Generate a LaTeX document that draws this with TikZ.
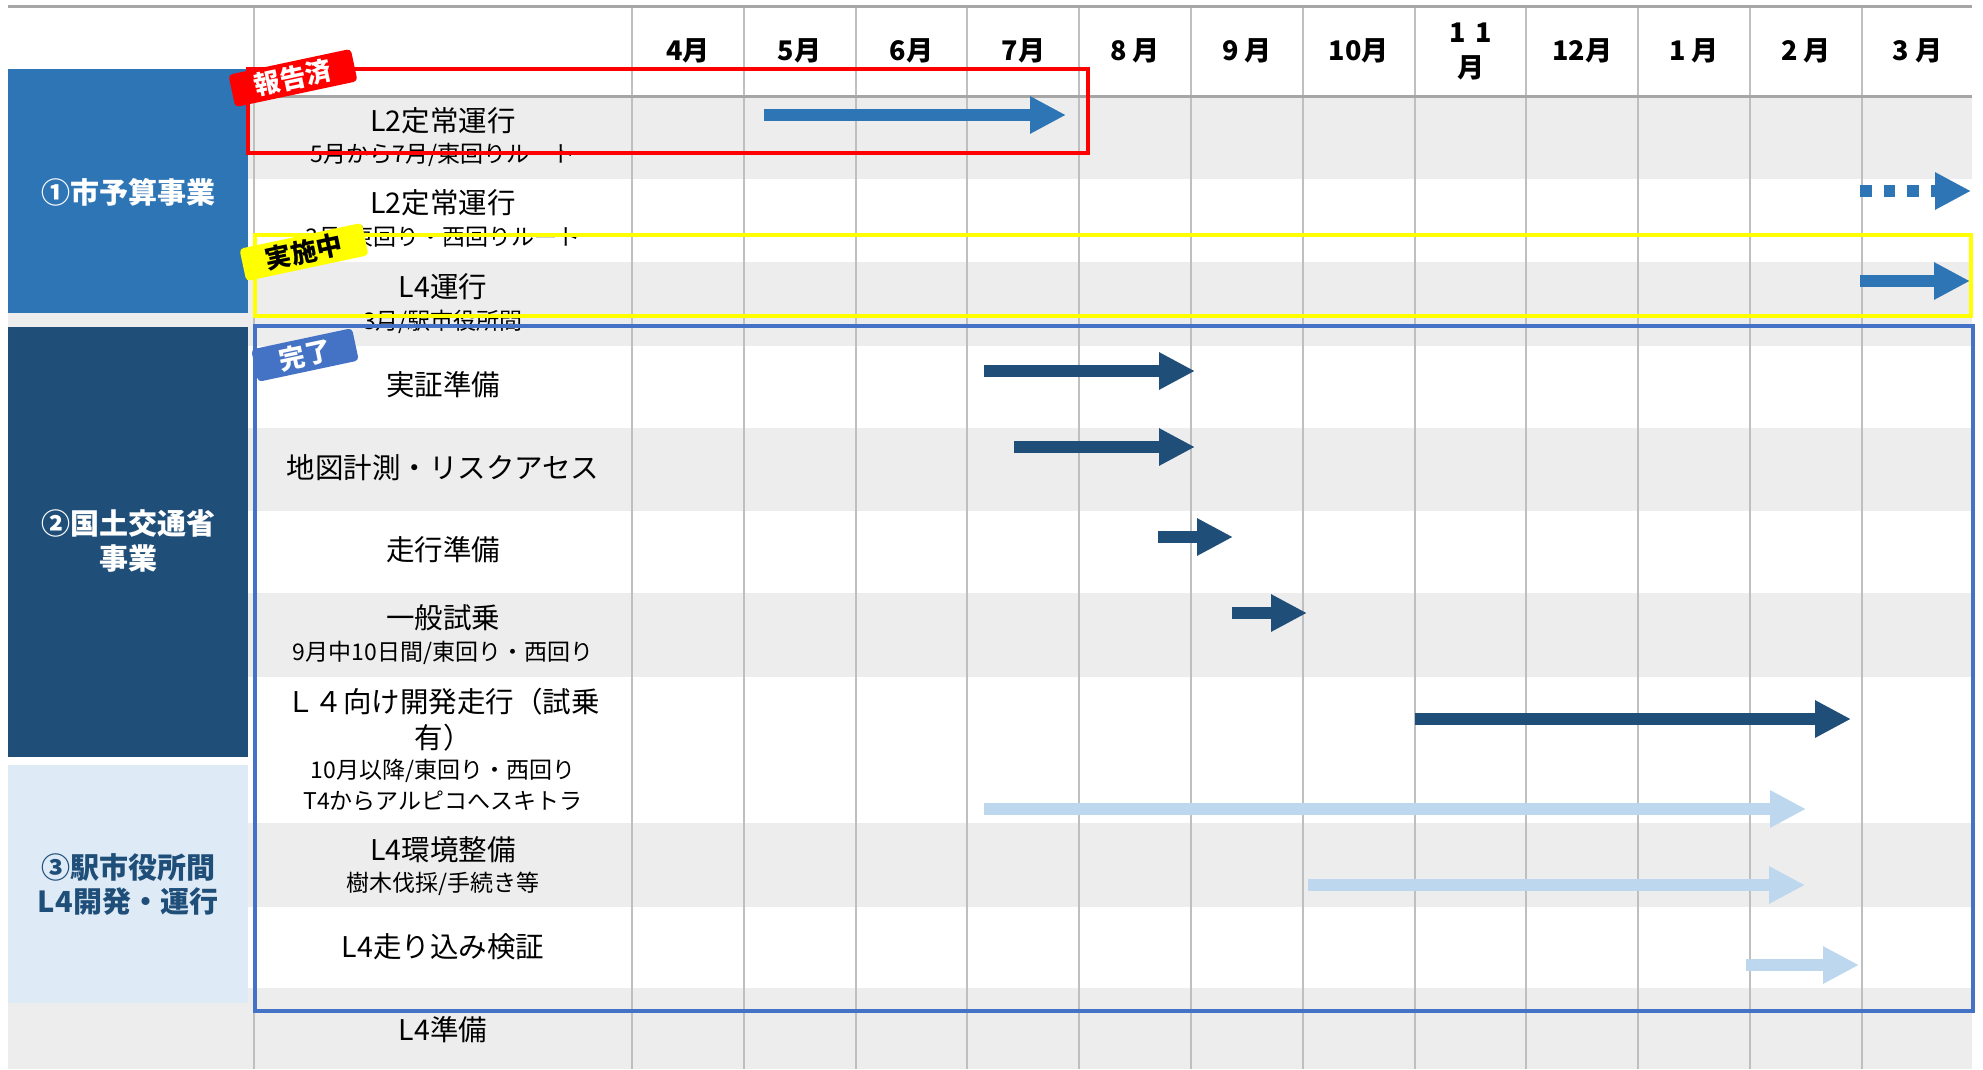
\documentclass[tikz,border=0pt]{standalone}
\usepackage{fontspec}
\setmainfont{Noto Sans CJK JP}
\usetikzlibrary{arrows.meta}
\definecolor{rowgray}{HTML}{EDEDED}
\definecolor{gridgray}{HTML}{BFBFBF}
\definecolor{hdrgray}{HTML}{A6A6A6}
\definecolor{catA}{HTML}{2E75B6}
\definecolor{catB}{HTML}{1F4E79}
\definecolor{catC}{HTML}{DEEBF7}
\definecolor{barA}{HTML}{2E75B6}
\definecolor{barB}{HTML}{1F4E79}
\definecolor{barC}{HTML}{BDD7EE}
\definecolor{tagblue}{HTML}{4472C4}
\definecolor{hlyellow}{HTML}{FFFF00}
\definecolor{hlred}{HTML}{FF0000}
\newcommand{\fsmain}{\fontsize{28.5pt}{34pt}\selectfont}
\newcommand{\fssub}{\fontsize{23pt}{27pt}\selectfont}
\newcommand{\fsmonth}{\bfseries\fontsize{27pt}{32pt}\selectfont}
\newcommand{\fscat}{\bfseries\fontsize{29pt}{34pt}\selectfont}
\newcommand{\fstag}{\bfseries\fontsize{26pt}{30pt}\selectfont}
\begin{document}
\begin{tikzpicture}[x=1pt,y=-1pt,
  stripe/.style={fill=rowgray},
  gridline/.style={draw=gridgray,line width=2pt},
  hdrline/.style={draw=hdrgray,line width=3pt},
  tasktitle/.style={inner sep=0pt,text=black,font=\fsmain},
  tasksub/.style={inner sep=0pt,text=black,font=\fssub},
  monthlbl/.style={inner sep=0pt,text=black,font=\fsmonth},
  catlbl/.style={inner sep=0pt,font=\fscat},
  gbar/.style={line width=12pt,-{Triangle[length=36pt,width=35pt]}},
  hlbox/.style={line width=3.2pt},
  tag/.style={rounded corners=4pt,inner sep=0pt,minimum height=33pt,font=\fstag,rotate=12}
]
\useasboundingbox (0,0) rectangle (1983,1069);
\fill[white] (0,0) rectangle (1983,1069);

% row stripes
\fill[stripe] (8,96) rectangle (1972,179);
\fill[stripe] (8,262) rectangle (1972,346);
\fill[stripe] (8,428) rectangle (1972,511);
\fill[stripe] (8,593) rectangle (1972,677);
\fill[stripe] (8,823) rectangle (1972,907);
\fill[stripe] (8,988) rectangle (1972,1069);

% category boxes
\fill[catA] (8,69) rectangle (248,313);
\fill[catB] (8,327) rectangle (248,757);
\fill[catC] (8,765) rectangle (248,1003);

% grid lines
\draw[gridline] (253.6,6) -- (253.6,1069);
\foreach \k in {0,...,11} {
  \draw[gridline] ({632+111.8*\k},6) -- ({632+111.8*\k},1069);
}
\draw[hdrline] (8,6) -- (1972,6);
\draw[hdrline] (248,96) -- (1972,96);

% month labels
\node[monthlbl] (m4) at (687.9,51) {4月};
\node[monthlbl] (m5) at (799.7,51) {5月};
\node[monthlbl] (m6) at (911.5,51) {6月};
\node[monthlbl] (m7) at (1023.3,51) {7月};
\node[monthlbl] (m8) at (1135.1,51) {8 月};
\node[monthlbl] (m9) at (1246.9,51) {9 月};
\node[monthlbl] (m10) at (1358.7,51) {10月};
\node[monthlbl] (m11a) at (1470.5,33) {1\,\,1};
\node[monthlbl] (m11b) at (1470.5,68) {月};
\node[monthlbl] (m12) at (1582.3,51) {12月};
\node[monthlbl] (m1) at (1694.1,51) {1 月};
\node[monthlbl] (m2) at (1805.9,51) {2 月};
\node[monthlbl] (m3) at (1917.7,51) {3 月};

% category labels
\node[catlbl,text=white] (catA1) at (128,192) {①市予算事業};
\node[catlbl,text=white] (catB1) at (128,523) {②国土交通省};
\node[catlbl,text=white] (catB2) at (128,558) {事業};
\node[catlbl,text=catB] (catC1) at (128,867) {③駅市役所間};
\node[catlbl,text=catB] (catC2) at (128,902) {L4開発・運行};

% task labels
\node[tasktitle] (t1) at (443,121) {L2定常運行};
\node[tasksub] (t1s) at (443,155) {5月から7月/東回りルート};
\node[tasktitle] (t2) at (443,203) {L2定常運行};
\node[tasksub] (t2s) at (443,238) {3月/東回り・西回りルート};
\node[tasktitle] (t3) at (443,287) {L4運行};
\node[tasksub] (t3s) at (443,322) {3月/駅市役所間};
\node[tasktitle] (t4) at (443,385) {実証準備};
\node[tasktitle] (t5) at (443,468) {地図計測・リスクアセス};
\node[tasktitle] (t6) at (443,550) {走行準備};
\node[tasktitle] (t7) at (443,618) {一般試乗};
\node[tasksub] (t7s) at (443,653) {9月中10日間/東回り・西回り};
\node[tasktitle] (t8a) at (443,702) {Ｌ４向け開発走行（試乗};
\node[tasktitle] (t8b) at (443,738) {有）};
\node[tasksub] (t8s1) at (443,771) {10月以降/東回り・西回り};
\node[tasksub] (t8s2) at (443,801) {T4からアルピコへスキトラ};
\node[tasktitle] (t9) at (443,850) {L4環境整備};
\node[tasksub] (t9s) at (443,884) {樹木伐採/手続き等};
\node[tasktitle] (t10) at (443,947) {L4走り込み検証};
\node[tasktitle] (t11) at (443,1030) {L4準備};

% bars
\coordinate (b1s) at (764,115);   \coordinate (b1e) at (1066,115);
\coordinate (b2s) at (1860,191);  \coordinate (b2e) at (1971,191);
\coordinate (b3s) at (1860,281);  \coordinate (b3e) at (1970,281);
\coordinate (b4s) at (984,371);   \coordinate (b4e) at (1195,371);
\coordinate (b5s) at (1014,447);  \coordinate (b5e) at (1195,447);
\coordinate (b6s) at (1158,537);  \coordinate (b6e) at (1233,537);
\coordinate (b7s) at (1232,613);  \coordinate (b7e) at (1307,613);
\coordinate (b8s) at (1415,719);  \coordinate (b8e) at (1851,719);
\coordinate (b9s) at (984,809);   \coordinate (b9e) at (1806,809);
\coordinate (b10s) at (1308,885); \coordinate (b10e) at (1805,885);
\coordinate (b11s) at (1746,965); \coordinate (b11e) at (1859,965);
\draw[gbar,barA] (b1s) -- (b1e);
\draw[gbar,barA,dash pattern=on 11.6pt off 12pt] (b2s) -- (b2e);
\draw[gbar,barA] (b3s) -- (b3e);
\draw[gbar,barB] (b4s) -- (b4e);
\draw[gbar,barB] (b5s) -- (b5e);
\draw[gbar,barB] (b6s) -- (b6e);
\draw[gbar,barB] (b7s) -- (b7e);
\draw[gbar,barB] (b8s) -- (b8e);
\draw[gbar,barC] (b9s) -- (b9e);
\draw[gbar,barC] (b10s) -- (b10e);
\draw[gbar,barC] (b11s) -- (b11e);

% highlight boxes
\draw[hlbox,hlred] (248,69) rectangle (1088,153);
\draw[hlbox,hlyellow] (255,235) rectangle (1971,316);
\draw[hlbox,tagblue] (255,326) rectangle (1973,1011);

% tags
\node[tag,fill=hlred,text=white,minimum width=125pt] (tagA) at (293,78) {報告済};
\node[tag,fill=hlyellow,text=black,minimum width=125pt] (tagB) at (304,252) {実施中};
\node[tag,fill=tagblue,text=white,minimum width=103pt] (tagC) at (305,355) {完了};
\end{tikzpicture}
\end{document}
